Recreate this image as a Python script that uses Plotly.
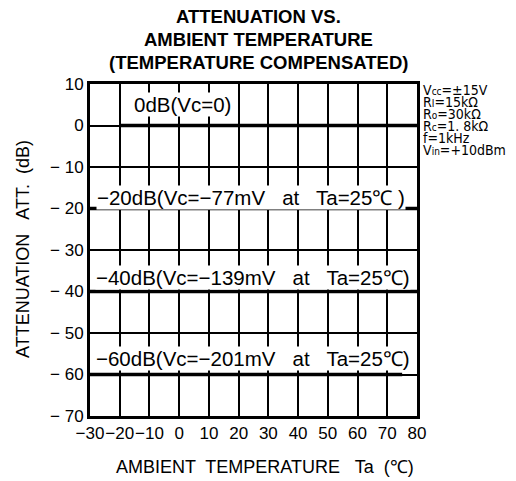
import plotly.graph_objects as go

# ==========================================
# DATA
# ==========================================
TEMP_TICKS = [-30, -20, -10, 0, 10, 20, 30, 40, 50, 60, 70, 80]
TEMP_TICK_TEXT = ["−30", "−20", "−10", "0", "10", "20", "30", "40", "50", "60", "70", "80"]
ATT_TICKS = [10, 0, -10, -20, -30, -40, -50, -60, -70]
ATT_TICK_TEXT = ["10", "0", "− 10", "− 20", "− 30", "− 40", "− 50", "− 60", "− 70"]

TEMP_0DB = [-20, -10, 0, 10, 20, 30, 40, 50, 60, 70, 80]
ATT_0DB = [0, 0, 0, 0, 0, 0, 0, 0, 0, 0, 0]
TEMP_20DB = [-30, -20, -10, 0, 10, 20, 30, 40, 50, 60, 70, 80]
ATT_20DB = [-20, -20, -20, -20, -20, -20, -20, -20, -20, -20, -20, -20]
TEMP_40DB = [-30, -20, -10, 0, 10, 20, 30, 40, 50, 60, 70, 80]
ATT_40DB = [-40, -40, -40, -40, -40, -40, -40, -40, -40, -40, -40, -40]
TEMP_60DB = [-30, -20, -10, 0, 10, 20, 30, 40, 50, 60, 70, 75]
ATT_60DB = [-60, -60, -60, -60, -60, -60, -60, -60, -60, -60, -60, -60]

CURVE_LABELS = [
    ("0dB(Vc=0)", 1.0, 5.0),
    ("−20dB(Vc=−77mV   at   Ta=25℃ )", 24.3, -17.3),
    ("−40dB(Vc=−139mV   at   Ta=25℃)", 24.9, -36.7),
    ("−60dB(Vc=−201mV   at   Ta=25℃)", 24.9, -56.2),
]
SMALL = "<span style='font-size:10px'>{}</span>"
CONDITIONS = ["V" + SMALL.format("cc") + "=±15V", "R" + SMALL.format("I") + "=15kΩ",
              "R" + SMALL.format("o") + "=30kΩ", "R" + SMALL.format("c") + "=1. 8kΩ",
              "f=1kHz", "V" + SMALL.format("in") + "=+10dBm"]
TITLE_LINES = ["ATTENUATION VS.", "AMBIENT TEMPERATURE", "(TEMPERATURE COMPENSATED)"]

# ==========================================
# STYLE
# ==========================================
FONT = "Liberation Sans, Arial, sans-serif"
NARROW = "Liberation Sans Narrow, DejaVu Sans Condensed, sans-serif"
TICK_FONT = dict(family=FONT, size=17, color="black")
LABEL_FONT = dict(family=FONT, size=20.5, color="black")
TITLE_FONT = dict(family=FONT, size=18.5, color="black")

# plot area in page pixels (the page puts the figure 8px in from the top-left)
PAGE_OFFSET = 8
PLOT_LEFT, PLOT_RIGHT = 90, 417
PLOT_TOP, PLOT_BOTTOM = 84, 416
PLOT_W = PLOT_RIGHT - PLOT_LEFT
PLOT_H = PLOT_BOTTOM - PLOT_TOP
FIG_W, FIG_H = 516 - PAGE_OFFSET, 481 - PAGE_OFFSET


def px(pixel_x):
    """page pixel x -> paper x relative to the plot area"""
    return (pixel_x - PLOT_LEFT) / PLOT_W


def py(pixel_y):
    """page pixel y -> paper y relative to the plot area"""
    return (PLOT_BOTTOM - pixel_y) / PLOT_H


fig = go.Figure()

for xs, ys in [(TEMP_0DB, ATT_0DB), (TEMP_20DB, ATT_20DB), (TEMP_40DB, ATT_40DB), (TEMP_60DB, ATT_60DB)]:
    fig.add_trace(go.Scatter(x=xs, y=ys, mode="lines", line=dict(color="black", width=3.5),
                             showlegend=False, hoverinfo="skip"))

annotations = []
for text, x, y in CURVE_LABELS:
    annotations.append(dict(text=text, x=x, y=y, xref="x", yref="y", showarrow=False,
                            font=LABEL_FONT, bgcolor="white", borderpad=0))

# title lines
for text, y in zip(TITLE_LINES, [17, 39, 62]):
    annotations.append(dict(text=f"<b>{text}</b>", x=px(258), y=py(y), xref="paper", yref="paper",
                            xanchor="center", yanchor="middle", showarrow=False, font=TITLE_FONT))

# conditions on the right
for i, text in enumerate(CONDITIONS):
    annotations.append(dict(text=text, x=px(421), y=py(90 + 12 * i), xref="paper", yref="paper",
                            xanchor="left", yanchor="middle", showarrow=False,
                            font=dict(family=NARROW, size=14, color="black")))

# axis titles
annotations.append(dict(text="ATTENUATION   ATT.  (dB)", x=px(23), y=py(249), xref="paper", yref="paper",
                        textangle=-90, xanchor="center", yanchor="middle", showarrow=False,
                        font=dict(family=FONT, size=18, color="black")))
annotations.append(dict(text="AMBIENT  TEMPERATURE   Ta  (℃)", x=px(265), y=py(467), xref="paper", yref="paper",
                        xanchor="center", yanchor="middle", showarrow=False,
                        font=dict(family=FONT, size=18, color="black")))

fig.update_layout(
    width=FIG_W, height=FIG_H,
    margin=dict(l=PLOT_LEFT - PAGE_OFFSET, r=516 - PLOT_RIGHT,
                t=PLOT_TOP - PAGE_OFFSET, b=481 - PLOT_BOTTOM, autoexpand=False),
    plot_bgcolor="white", paper_bgcolor="white",
    annotations=annotations,
    showlegend=False,
)
fig.update_xaxes(range=[-30, 80], tickvals=TEMP_TICKS, ticktext=TEMP_TICK_TEXT, tickfont=TICK_FONT,
                 tickangle=0, showgrid=True, gridcolor="black", gridwidth=1.5, zeroline=False,
                 showline=True, linecolor="black", linewidth=3, mirror=True, ticks="")
fig.update_yaxes(range=[-70, 10], tickvals=ATT_TICKS, ticktext=ATT_TICK_TEXT, tickfont=TICK_FONT,
                 showgrid=True, gridcolor="black", gridwidth=1.5, zeroline=False,
                 showline=True, linecolor="black", linewidth=3, mirror=True, ticks="")

fig.write_html("out.html")
